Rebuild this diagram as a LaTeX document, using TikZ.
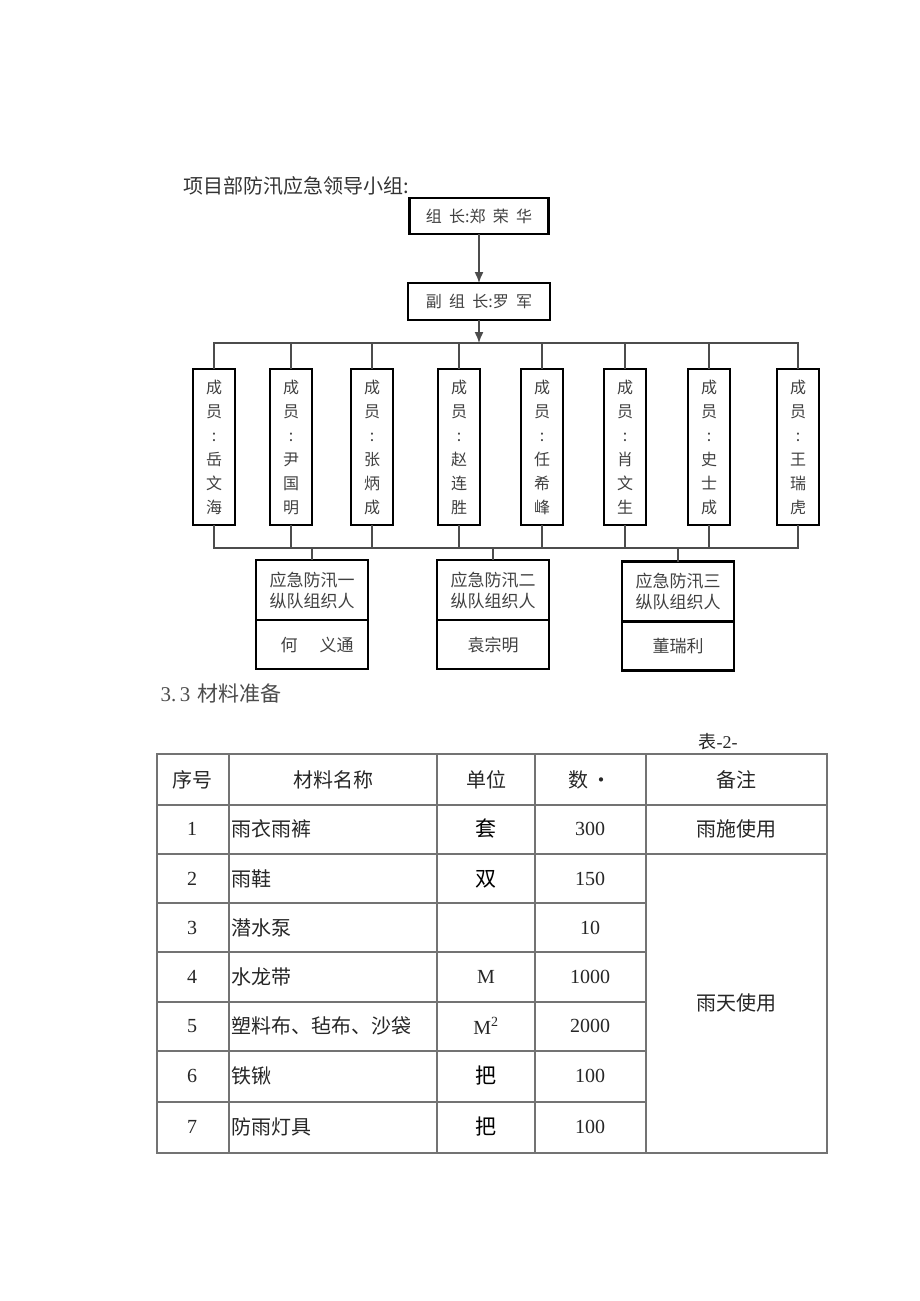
\documentclass[tikz,border=0pt]{standalone}
\usepackage{fontspec}
\setmainfont{Liberation Serif}
\newfontfamily\cjk{Noto Sans CJK SC}
\usetikzlibrary{arrows.meta,positioning}

\tikzset{
  box/.style={draw=black, line width=2.6pt, inner sep=0pt, outer sep=0pt,
    text=black!75, align=center, font=\cjk\fontsize{16}{24}\selectfont},
  wire/.style={draw=black!70, line width=1.4pt},
  grid/.style={draw=black!55, line width=1.6pt},
  cell/.style={inner sep=0pt, text=black!85, font=\fontsize{20}{24}\selectfont},
}

\begin{document}
\begin{tikzpicture}[x=1pt, y=-1pt, >={Latex[length=11pt,width=9pt]}]
  \useasboundingbox (0,0) rectangle (920,1301);
  \node[anchor=west, text=black!80, font=\cjk\fontsize{20}{24}\selectfont] (title) at (180,186) {项目部防汛应急领导小组:};

  % leaders
  \node[box, minimum width=139pt, minimum height=36pt] (L) at (479,216)
    {组\hspace{.45em}长:郑\hspace{.45em}荣\hspace{.45em}华};
  \node[box, minimum width=142pt, minimum height=37pt] (D) at (479,301.5)
    {副\hspace{.45em}组\hspace{.45em}长:罗\hspace{.45em}军};
  \coordinate (bt) at (479,343);
  \coordinate (bb) at (479,548);
  \draw[wire,->] (L) -- (D);
  \draw[wire,->] (D) -- (bt);

  % members
  \tikzset{member/.style={box, minimum width=42pt, minimum height=156pt}}
  \node[member] (m1) at (214,447) {成\\员\\:\\岳\\文\\海};
  \node[member] (m2) at (291,447) {成\\员\\:\\尹\\国\\明};
  \node[member] (m3) at (372,447) {成\\员\\:\\张\\炳\\成};
  \node[member] (m4) at (459,447) {成\\员\\:\\赵\\连\\胜};
  \node[member] (m5) at (542,447) {成\\员\\:\\任\\希\\峰};
  \node[member] (m6) at (625,447) {成\\员\\:\\肖\\文\\生};
  \node[member] (m7) at (709,447) {成\\员\\:\\史\\士\\成};
  \node[member] (m8) at (798,447) {成\\员\\:\\王\\瑞\\虎};
  \draw[wire] (m1.north) -- (m1.north |- bt) -- (m8.north |- bt) -- (m8.north);
  \draw[wire] (m1.south) -- (m1.south |- bb) -- (m8.south |- bb) -- (m8.south);
  \foreach \k in {2,...,7} {
    \draw[wire] (m\k.north) -- (m\k.north |- bt);
    \draw[wire] (m\k.south) -- (m\k.south |- bb);
  }

  % team organisers
  \tikzset{team/.style={box, minimum width=112pt, minimum height=60pt,
      font=\cjk\fontsize{17}{21}\selectfont},
    head/.style={box, minimum width=112pt, minimum height=49pt,
      font=\cjk\fontsize{17}{21}\selectfont}}
  \node[team] (t1) at (312,590) {应急防汛一\\纵队组织人};
  \node[head, below=0pt of t1] (n1) {\hspace{.6em}何\hspace{1.3em}义通};
  \node[team] (t2) at (493,590) {应急防汛二\\纵队组织人};
  \node[head, below=0pt of t2] (n2) {袁宗明};
  \node[team] (t3) at (678,591.5) {应急防汛三\\纵队组织人};
  \node[head, below=0pt of t3] (n3) {董瑞利};
  \foreach \k in {1,2,3}
    \draw[wire] (t\k.north |- bb) -- (t\k.north);

  % materials
  \node[anchor=west, text=black!70, font=\fontsize{21}{24}\selectfont] (sec) at (157,693)
    {3.\,3\hspace{.35em}{\cjk 材料准备}};
  \node[anchor=west, text=black!85, font=\fontsize{18}{22}\selectfont] (tab) at (695,742)
    {{\cjk 表}-2-};

  \draw[grid] (157,754) rectangle (827,1153);
  \foreach \y in {805,854} \draw[grid] (157,\y) -- (827,\y);
  \foreach \y in {903,952,1002,1051,1102} \draw[grid] (157,\y) -- (646,\y);
  \foreach \x in {229,437,535,646} \draw[grid] (\x,754) -- (\x,1153);

  \node[cell] (h1) at (192,780) {\cjk 序号};
  \node[cell] (h2) at (333,780) {\cjk 材料名称};
  \node[cell] (h3) at (486,780) {\cjk 单位};
  \node[cell] (h4) at (590,780) {\cjk 数\,·};
  \node[cell] (h5) at (736,780) {\cjk 备注};

  \foreach \i/\nm/\un/\q/\y in {
      1/雨衣雨裤/{\cjk\color{black}\fontsize{21}{24}\selectfont 套}/300/829,
      2/雨鞋/{\cjk\color{black}\fontsize{21}{24}\selectfont 双}/150/879,
      3/潜水泵/{}/10/928,
      4/水龙带/M/1000/977,
      5/塑料布、毡布、沙袋/{M\textsuperscript{2}}/2000/1026,
      6/铁锹/{\cjk\color{black}\fontsize{21}{24}\selectfont 把}/100/1076,
      7/防雨灯具/{\cjk\color{black}\fontsize{21}{24}\selectfont 把}/100/1127} {
    \node[cell] (c\i) at (192,\y) {\i};
    \node[cell, anchor=west] (w\i) at (231,\y) {\cjk \nm};
    \node[cell] (u\i) at (486,\y) {\un};
    \node[cell] (q\i) at (590,\y) {\q};
  }
  \node[cell] (b1) at (736,829) {\cjk 雨施使用};
  \node[cell] (b2) at (736,1003) {\cjk 雨天使用};
\end{tikzpicture}
\end{document}
